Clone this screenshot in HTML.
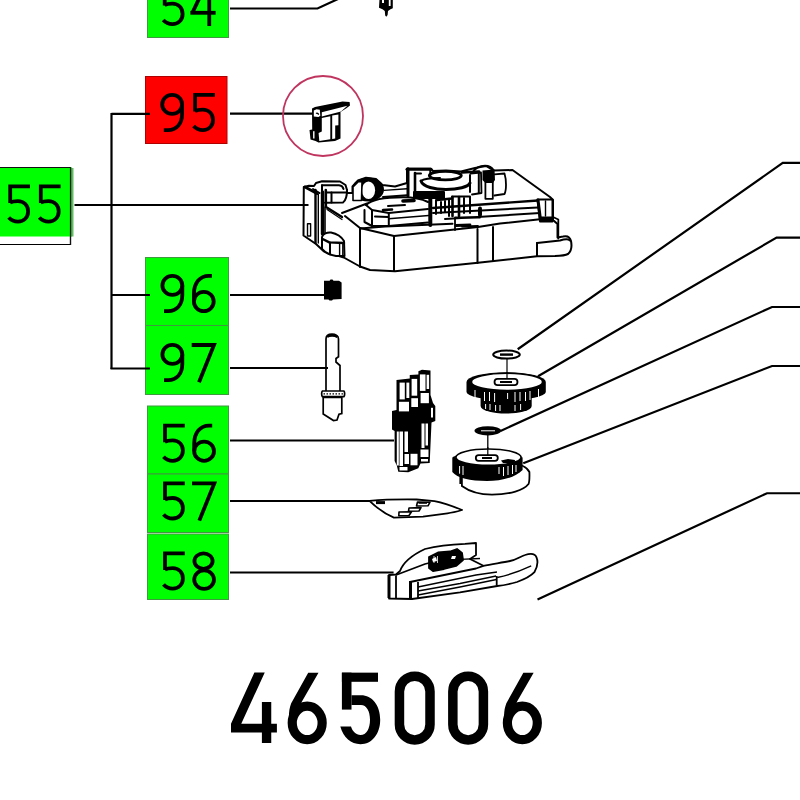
<!DOCTYPE html>
<html><head><meta charset="utf-8">
<style>
html,body{margin:0;padding:0;background:#fff;}
body{width:800px;height:800px;overflow:hidden;position:relative;font-family:"Liberation Sans",sans-serif;}
svg{position:absolute;left:0;top:0;}
.lb{font-family:"Liberation Sans",sans-serif;font-size:55px;fill:#000;letter-spacing:2px;}
</style></head>
<body>
<svg width="800" height="800" viewBox="0 0 800 800">
<defs>
<g id="d5" fill="none" stroke="#000" stroke-width="3.8"><path d="M26.3,1.9 H6.5 V18.6"/><path d="M6.3,18.2 C8.5,16.9 11.2,16.6 14.2,16.6 C20.3,16.6 24.4,21 24.4,26.9 C24.4,32.9 20.2,37.1 14.3,37.1 C10.5,37.1 7.3,35.6 5,33"/></g>
<g id="d9" fill="none" stroke="#000" stroke-width="3.8"><ellipse cx="14.15" cy="11.4" rx="9.95" ry="9.5"/><path d="M24.1,11.4 V21 C24.1,31 18.5,37.1 10,37.1 H5.8"/></g>
<g id="d6" fill="none" stroke="#000" stroke-width="3.8"><ellipse cx="15" cy="27.5" rx="9.9" ry="9.6"/><path d="M5.1,27.5 V20 C5.1,9 11,1.9 20,1.9 H23.1"/></g>
<g id="d7" fill="none" stroke="#000" stroke-width="3.8"><path d="M2.9,2 H25.2 L10.2,39.2"/></g>
<g id="d8" fill="none" stroke="#000" stroke-width="3.8"><ellipse cx="14.4" cy="9.6" rx="9.1" ry="7.7"/><ellipse cx="15" cy="28.1" rx="9.9" ry="9.3"/></g>
<g id="d4" fill="none" stroke="#000" stroke-width="3.8"><path d="M20.45,0 V39"/><path d="M1.6,25.8 H26.8"/><path d="M16,-0.5 L3.6,25.8"/></g>
</defs>
<!-- label boxes -->
<g id="boxes">
<rect x="147.5" y="-1" width="81" height="38.5" fill="#00ff00" stroke="#3f9a3f" stroke-width="1"/>
<rect x="145.5" y="76.5" width="81.5" height="67" fill="#ff0000" stroke="#b00000" stroke-width="1"/>
<path d="M-1 167.5 H70.5 V244.5 H-1" fill="none" stroke="#000" stroke-width="1.2"/>
<rect x="-1" y="167.5" width="73" height="69" fill="#00ff00"/>
<rect x="70" y="168" width="3.5" height="68.5" fill="#3daa3d" opacity="0.8"/>
<line x1="-1" y1="167.5" x2="70.5" y2="167.5" stroke="#111" stroke-width="1.2"/>
<line x1="70.5" y1="167.5" x2="70.5" y2="245" stroke="#111" stroke-width="1.2"/>
<rect x="145.5" y="257.5" width="83" height="68" fill="#00ff00" stroke="#3f9a3f" stroke-width="1"/>
<rect x="145.5" y="325.5" width="83" height="69" fill="#00ff00" stroke="#3f9a3f" stroke-width="1"/>
<rect x="147.5" y="406" width="81" height="68" fill="#00ff00" stroke="#3f9a3f" stroke-width="1"/>
<rect x="147.5" y="474" width="81" height="58.5" fill="#00ff00" stroke="#3f9a3f" stroke-width="1"/>
<rect x="147.5" y="534" width="81" height="65.5" fill="#00ff00" stroke="#3f9a3f" stroke-width="1"/>
</g>
<!-- label texts -->
<g id="labels">
<use href="#d5" x="158.2" y="-13"/><use href="#d4" x="188.8" y="-13"/>
<use href="#d9" x="158" y="93"/><use href="#d5" x="188.6" y="93"/>
<use href="#d5" x="3.7" y="184.5"/><use href="#d5" x="34.3" y="184.5"/>
<use href="#d9" x="158.2" y="274"/><use href="#d6" x="188.8" y="274"/>
<use href="#d9" x="158.2" y="343"/><use href="#d7" x="188.8" y="343"/>
<use href="#d5" x="158.5" y="423.7"/><use href="#d6" x="189.1" y="423.7"/>
<use href="#d5" x="158.5" y="481.4"/><use href="#d7" x="189.1" y="481.4"/>
<use href="#d5" x="158.5" y="551.5"/><use href="#d8" x="189.1" y="551.5"/>
</g>
<!-- housing 55 -->
<g id="housing" fill="none" stroke="#000" stroke-width="2" stroke-linejoin="round" stroke-linecap="round">
<path fill="#fff" d="M303.8,187 L309,185.8 L314,186 L316,183 L322,181.3 L340,181.5 L345.5,185 L347,190 L347,193 L352.5,193 L352.5,186.5 L358,180.5 L366,177.8 L376,179 L382.5,185 L395,186.5 L407,183 L407,168.8 L431,168.8 L433,171 L446,170.5 L461,171.5 L475,168 L486,166 L494,170.6 L512.5,170 L550,197 L553,200 L553,220 L557.5,224 L557.5,237.5 L563,236.5 C567,235.5 570,237 571,241 C572,246 571.5,251 568,254 C565,255.5 560,255.8 555,256 L537,256.3 L478,262.8 L395,271.3 L370,270 L360,266.5 L343.8,257.5 L323.8,251.3 L316,244 L303.5,235.5 Z"/>
<!-- left tab -->
<path d="M315.5,190 V243" stroke-width="2.4"/><path d="M318.3,194 V243" stroke-width="1.4"/>
<path d="M322.5,192 V234" stroke-width="3.4"/>
<rect x="307.5" y="223.8" width="3.1" height="12.2" stroke-width="1.4"/>
<path d="M305,187 L317,193.5" stroke-width="3"/><path d="M313,189 L319.5,193"/>
<!-- boss -->
<path d="M322,185.3 H339 C341.5,185.5 343,187 343.5,189"/><path d="M322,185.3 V193"/>
<path d="M326,192.5 H346"/><path d="M331.5,192.5 V202.5"/><path d="M325.8,190 V206" stroke-width="2.6"/>
<path d="M325,202.8 L343,202.5 C346.5,200 347,193 347,190"/>
<!-- knob -->
<ellipse cx="368" cy="189.5" rx="16" ry="12" fill="#000" stroke="none"/>
<ellipse cx="368.5" cy="190.3" rx="6.6" ry="8.8" fill="#fff" stroke="none"/>
<path d="M353,200.5 V187 L358.5,181.5 L362,182 L361.5,200.5 Z" fill="#fff" stroke-width="1.6"/>
<path d="M383,197 L407,195.2"/>
<path d="M384,190.4 L407,188.7" stroke-width="1.4"/>
<!-- left face -->
<path d="M326,207 L342,217" stroke-width="2.4"/><path d="M327,209.5 L342,219.5" stroke-width="1.2"/>
<path d="M342,213 L367,203.5"/>
<path d="M345,216 L360,228 L394,236 L478,227 L500,223.5 L540,219.3"/>
<path d="M360,228 V267"/><path d="M394,236 V271"/><path d="M477.5,229 V263"/><path d="M493,227 V261"/>
<path d="M325,207 V235" stroke-width="1.6"/>
<!-- left foot -->
<path fill="#fff" d="M322,249 L322,237 C323,234 327,232 331,232.5 C336,233.5 341,236 344,241 L344.5,256 L336,256 C330,255 325,252.5 322,249 Z"/>
<path d="M322.6,239 L329.3,242.4 L344,243" stroke-width="2.4"/><path d="M330,242.4 V254.5"/><path d="M339.6,242.6 V255.5" stroke-width="1.4"/><path d="M342.8,242.8 V255.5" stroke-width="1.4"/>
<!-- top disk -->
<path d="M366,205 C372,199 385,197.3 403,197.3 C415,197.3 422,199 428,202"/>
<path d="M366,205 L372,210 L388.8,213 L428,209"/>
<path d="M364.5,210 V222 L372,226 L388.8,226 L428,222.5"/>
<path d="M372,210 V226"/><path d="M388.8,213 V226"/>
<path d="M375,216.5 L388,217"/>
<path d="M403,201 L414,200.5" stroke-width="3.6"/>
<path d="M388,206 L405,205" stroke-width="2"/>
<path d="M383,210 L392,209.5" stroke-width="2.6"/>
<path d="M388.8,218.8 L428.7,215.5" stroke-width="1.6"/>
<path d="M360,228.5 L385,226.5 L452.5,223.8"/>
<!-- center tower -->
<path d="M408,168.8 V196" stroke-width="3"/><path d="M415,173 V194" stroke-width="2.6"/><path d="M407,169.3 L431,169.3" stroke-width="3"/>
<path d="M415,173.5 H421"/>
<path d="M430.3,169.3 V178"/>
<path d="M414,192 L444,192 L444,198 L414,198 Z" fill="#000"/>
<path d="M430.3,193 V225" stroke-width="4"/>
<ellipse cx="445.3" cy="175.6" rx="16" ry="4.2" stroke-width="2.8"/>
<path d="M421,181 C423,187 435,189.5 446,189.5 C458,189.5 468,187 470,183" stroke-width="3"/>
<path d="M421,181 C424,178.5 432,178 440,178"/>
<path d="M462,172.5 L479,171.5" stroke-width="2.6"/><path d="M470,175 V192 M478.8,172 V193"/>
<path d="M437,200 L452,198.5" stroke-width="2.4"/><path d="M436,200 V214 M441,202 V213 M445,201 V212 M449,200 V216"/>
<path d="M452.5,197 V216 M459,197 V216" stroke-width="2.6"/>
<path d="M452,196.5 H470 V213"/><path d="M464,198 V213"/>
<path d="M455,217.5 H480 M455,217.5 V230 M462,226.5 L478,226" stroke-width="1.8"/>
<path d="M456,225.5 L470,225" stroke-width="2.8"/>
<!-- wing nut -->
<path d="M473,172 C476,167 481,165.8 485,165.8 C489,165.8 492,167.5 493.5,170" stroke-width="2"/>
<path d="M470.5,173.5 L481,172.5 L481.5,193 L472,194.5" stroke-width="1.8"/>
<path d="M485.4,178 V198.8 H492.8 V178" stroke-width="1.8"/>
<path fill="#000" stroke="none" d="M482.5,170.5 L494.5,169.5 L495,180 L492.8,183 L485.4,183 L482.5,180 Z"/>
<path d="M494.4,174.4 L504.5,173.5 C506.5,180 506.5,190 504.5,194 L494.4,195.5" stroke-width="1.8"/>
<!-- right bars -->
<path d="M433,208 L538,200.5" stroke-width="2.4"/><path d="M433,213 L538,207.5"/><path d="M445,219 L540,213"/>
<path d="M480,208.5 V215" stroke-width="4"/>
<path d="M537.5,199.5 H552.5 V221.5 H540 Z" stroke-width="2"/>
<path d="M538,200 L540.5,220" stroke-width="3"/>
<path fill="#000" stroke="none" d="M540,216.5 H553 V222 H540 Z"/>
<path d="M545.5,201 V216" stroke-width="1.4"/>
<path d="M553,217 L558.3,219.5 V238.5" stroke-width="1.8"/>
<!-- right foot -->
<path d="M537,243 L560,240.5 C565,239 568,238.5 570,240.5" stroke-width="2"/><path d="M537,243 V256"/>
</g>
<!-- part 54 top -->
<path d="M379.5,-1 L379,7.8 L382.5,9.2 L384.8,11 L385.2,15.5 L386.3,16.8 L387.6,15 L388,11 L390.5,9.2 L392.8,8.3 L392.8,-1 Z" fill="#000"/>
<rect x="382" y="-1" width="2" height="4" fill="#fff"/><rect x="388.8" y="-1" width="1.8" height="7" fill="#fff"/>
<!-- part 95 -->
<g id="p95">
<path fill="#000" d="M312,108.5 L315,107 L342.5,101.4 L349.6,102 L350,105.5 L346,108.5 L340.5,112 L340.5,138.5 L335,141 L318.5,142.5 L315.5,141 L310.5,139.5 L309.5,130 L312.2,129.5 Z"/>
<path fill="#fff" d="M321.8,112.2 L347.4,105.8 L341,111.6 L321.8,116.4 Z"/>
<path fill="#fff" d="M321.8,118 L330.3,116.3 L330.3,139.3 L319.3,141 L318.6,133 L321.8,131.5 Z"/>
<path fill="#fff" d="M332.2,115.6 L338.4,114.4 L338.4,125.3 L335.2,125.6 L335.2,138.6 L332.2,139 Z"/>
<path fill="#fff" d="M313.8,110.5 L316.5,109.3 L319.8,109.8 L320.3,115.8 L318.5,117 L313.8,116.5 Z"/><path d="M316,113.5 A1.6,1.6 0 0 1 318.5,114.8" fill="none" stroke="#000" stroke-width="1.3"/>
<rect x="313.1" y="131.2" width="1.4" height="7.3" fill="#fff"/>
</g>
<!-- part 96 -->
<path fill="#000" d="M324,280.8 L329.6,280.8 L330.5,279.6 L332.5,279.6 L333.5,280.8 L339,280.8 L341.6,282.5 L341.6,299 L333,299.6 L332,300.6 L329.5,300.6 L328.5,299.6 L324,299.6 Z"/>
<!-- part 97 pin -->
<g id="p97" fill="none" stroke="#000" stroke-width="1.7">
<path fill="#fff" d="M326,391.5 V339 C326,336 328.5,334.2 332,334.2 C335.5,334.2 338.5,336 338.5,339 V356.7 L336,358.5 L336,362 L340,365.5 V391"/>
<path d="M327,337 C329,334.8 335,334.8 337.5,337" stroke-width="2.6"/>
<path fill="#fff" d="M322.4,391 H343.9 C344.9,392 344.9,395.6 343.9,396.6 H322.4 C321.4,395.6 321.4,392 322.4,391 Z"/>
<path d="M323.5,393.8 H343" stroke-dasharray="1.5 1.5" stroke-width="1.2"/>
<path fill="#fff" d="M323.2,397.5 H341.8 V413.5 L339,414.3 L337,420 L333.5,420.5 L323.2,414 Z"/>
</g>
<!-- part 56 -->
<g id="p56">
<path fill="#000" d="M396.5,380 L409.75,378.5 L409.75,375 L418.4,374.5 L418.4,371.3 L422,369.8 L430.5,370.6 L430.5,395 L433,403 L435.3,406 L435.3,421 L431.5,422.5 L429.7,463 L420.5,463.5 L418.3,468.3 L408.3,472.3 L398.3,471.8 L396.8,465.5 L394.6,461 L394.6,431 L392,429.5 L392,411 L396.5,410 Z"/>
<g fill="#fff">
<rect x="399.6" y="382.6" width="5.2" height="16.8"/><rect x="406.4" y="382.6" width="2.9" height="15.4"/><rect x="398.9" y="401.8" width="10.1" height="9.6"/>
<rect x="411.6" y="378.9" width="5.6" height="16.8"/><rect x="411.3" y="398.2" width="6.7" height="8.8"/>
<rect x="419.9" y="374.4" width="5.6" height="16.5"/><rect x="426.6" y="374.8" width="2.5" height="14.2"/><rect x="420.6" y="393" width="8.3" height="10.2"/>
<rect x="431" y="407.8" width="2" height="9.7"/>
<rect x="396.8" y="431.5" width="2" height="34"/><rect x="399.5" y="431.5" width="3.5" height="34.5"/><rect x="399.5" y="467" width="8" height="3.5"/>
<rect x="404.5" y="431.5" width="3.5" height="20.5"/>
<rect x="421.5" y="423.5" width="3" height="24.5"/><rect x="425.5" y="423.5" width="2.5" height="22"/><rect x="420.5" y="449.5" width="8" height="7.5"/><rect x="421" y="459" width="7" height="2.5"/>
<rect x="410.5" y="453.8" width="7" height="11.5"/><rect x="404.5" y="454" width="4.5" height="10"/>
</g></g>
<!-- part 57 -->
<g id="p57" fill="none" stroke="#000" stroke-width="1.8" stroke-linejoin="round">
<path fill="#fff" d="M369.5,500.8 C385,499.5 400,499.3 416.6,499.5 L434.5,501.1 C442,502.5 450,505 462.1,510 C456,511.8 450,513 447.5,513.3 L423,516.6 L393.9,517.7 C385,514 377,508 369.5,500.8 Z"/>
<path d="M376,502.6 H385" stroke-width="3"/>
<path d="M417.5,502 L430,502.2 L428,505.8 L416.5,506 Z" stroke-width="1.6"/>
<path d="M418.5,503 H427" stroke-width="1.6"/>
<path d="M409,508 L421,507.6 L419,511 L408.5,511.2 Z" stroke-width="1.6"/>
<path d="M399,512 L411.5,511.7 L409,515.5 L398.8,515.7 Z" stroke-width="1.6"/>
</g>
<!-- part 58 -->
<g id="p58" fill="none" stroke="#000" stroke-width="1.8" stroke-linejoin="round">
<path fill="#fff" d="M389,575 L396,574.5 L400,571 C403,563 410,556 425,549 C437,546 450,544.5 465,543.8 L476,543 L476,555 L470,559 L483.4,565.8 C492,564 502.5,562.6 510,561 C517,559.5 520,556.5 525,555 C530,553.3 535,553.5 536.5,557.3 C538,561 538,566 534.4,572.2 C530,577 523.8,579.6 517,582 C510,584 503,585.5 497.2,586 L460,592.4 L412,599 L389,598.5 Z"/>
<path d="M396,575 L425,564 L445,559"/>
<path d="M389,575 V598" stroke-width="3"/><path d="M396,575.5 V598"/>
<path fill="#000" d="M429,557 L438,552.5 L450,551.5 L457,549 L462,553 L463,560 L456,566 L444,569 L433,571 L429,568 Z"/>
<path fill="#fff" stroke="none" d="M432,559 L436,557 L437,561 L433,562 Z M452,556 L456,556 L455,559 L451,559 Z"/>
<path d="M410,582 L476,568.5 L483.4,565.8"/>
<path d="M410.5,581 V599" stroke-width="3"/><path d="M418,582 V598"/>
<path d="M418,587 L476,575 L497,572" stroke-width="1.4"/>
<path d="M418,591 L460,583.5 L496.1,576" stroke-width="1.4"/>
<path d="M418,595 L460,587 L496.5,579.5" stroke-width="1.4"/>
<path d="M497.2,577.5 C510,575 520,571 531.2,565.8" stroke-width="1.4"/>
<path d="M496.7,576 V585.5"/>
<path d="M460,559.4 L480,558.5" stroke-width="1.4"/>
<path d="M434,556 L434,563 M437.5,556 V563" stroke="#fff" stroke-width="0.8"/>
</g>
<!-- washer 1 -->
<g fill="none" stroke="#000">
<ellipse cx="506.5" cy="354.6" rx="13.3" ry="4" fill="#fff" stroke-width="2"/>
<path d="M500,354.6 H513" stroke-width="2.4"/>
<path d="M507,359 V378" stroke-width="1.2"/>
</g>
<!-- gear 1 -->
<g id="gear1">
<path fill="#000" d="M480.6,398 V406 A25.5,7.5 0 0 0 531.7,406 V398 Z"/>
<path fill="#000" d="M466.5,382 A39.6,9.8 0 0 1 545.8,382 V392 A39.6,8 0 0 1 466.5,392 Z"/>
<ellipse cx="507" cy="381.9" rx="35.6" ry="8.6" fill="#fff" stroke="#000" stroke-width="1.6"/>
<rect x="494.5" y="378.8" width="23" height="6.3" rx="3.1" fill="#fff" stroke="#000" stroke-width="1.8"/>
<path d="M500,382 H512" stroke="#000" stroke-width="2"/>
<path d="M507,372 V379" stroke="#000" stroke-width="1.2"/>
<g stroke="#fff" stroke-width="1">
<path d="M475,390 V399 M484.5,392 V401 M489.5,392 V401 M494.6,393 V402 M507.6,393 V399 M515,392 V402 M520,392 V401 M525.5,392 V401 M530,391 V400 M538.5,389 V397"/>
<path d="M485.6,404 V409 M490,404 V410 M495.6,405 V411 M500,405 V411 M515,405 V411 M520.6,404 V410"/>
</g></g>
<!-- washer 2 -->
<g>
<ellipse cx="487.8" cy="430.8" rx="13.3" ry="4.6" fill="#000"/>
<path d="M481,430.8 H495" stroke="#fff" stroke-width="1"/>
<path d="M487.8,435 V450" stroke="#000" stroke-width="1.3"/>
</g>
<!-- gear 2 -->
<g id="gear2">
<path fill="#fff" stroke="#000" stroke-width="1.8" d="M461.9,470 V486 C470,492 480,494.6 492,494.6 C510,494.6 524,490 528.5,484 C529.5,482 529.6,478 529.4,472 C527,467 520,464 512,464 Z"/>
<path fill="#000" d="M452.3,457.4 A37.2,9.2 0 0 1 522.6,457.4 V470 C515,478 500,481 487,481 C470,481 457,478 452.3,472 Z"/>
<ellipse cx="488.5" cy="457.2" rx="32.6" ry="8.2" fill="#fff" stroke="#000" stroke-width="1.6"/>
<path fill="#000" d="M501,460.5 L508,459 L515,460 L514.7,463 L503,463 Z"/>
<rect x="475.8" y="455.2" width="22" height="5.6" rx="2.8" fill="#fff" stroke="#000" stroke-width="1.8"/>
<path d="M482,458 H492" stroke="#000" stroke-width="2"/>
<path d="M487.8,447 V456" stroke="#000" stroke-width="1.2"/>
<g stroke="#fff" stroke-width="1"><path d="M459.6,466 V474 M463,466 V475 M499,467 V474 M503.5,467 V476 M508,466 V475 M512.5,465 V474 M516,465 V472"/></g>
<path d="M460.2,473.5 V484" stroke="#000" stroke-width="1.6"/>
</g>
<!-- leader lines -->
<g id="lines" fill="none" stroke="#000" stroke-width="2.2">
<polyline points="230,8.5 317.5,8.5 338,-1"/>
<polyline points="111.5,113.8 150,113.8"/>
<polyline points="111.5,113 111.5,369"/>
<polyline points="74.5,205 308.5,205"/>
<polyline points="111.5,295 150,295"/>
<polyline points="110.5,368.5 150,368.5"/>
<polyline points="230,113.7 312.5,113.7"/>
<polyline points="230,295 325,295"/>
<polyline points="230,368 328,368"/>
<polyline points="230,440.5 394,440.5"/>
<polyline points="230,501 370,501"/>
<polyline points="230,572.5 393.6,572.5"/>
<polyline points="801,162.9 782.75,162.9 517.7,349.25"/>
<polyline points="801,237.6 776.6,237.6 538,376.25"/>
<polyline points="801,307 772,307 500.5,431"/>
<polyline points="801,366 772,366 523.25,463.25"/>
<polyline points="801,493.25 767,493.25 537.5,599.4"/>
</g>
<!-- circle -->
<circle cx="323" cy="116" r="40" fill="none" stroke="#c03560" stroke-width="1.8"/>
<!-- big number -->
<g id="big" fill="#000">
<path d="M254.4,672.5 H264.75 L241.25,723.75 H261.9 V701.9 H271.25 V723.75 H276.9 V732.5 H271.25 V743.1 H261.9 V732.5 H231 V723.75 Z"/>
<g id="b6"><ellipse cx="307.2" cy="722.9" rx="14.95" ry="16.7" fill="none" stroke="#000" stroke-width="9.2"/>
<path d="M308.2,672.65 L318.5,672.65 L301.8,701.7 L298,712 L289,717 C288.8,712 289.6,707.5 291.2,703.3 Z"/></g>
<g id="b5"><path d="M351.5,695.3 H361 C372,695.3 380.2,705 380.2,719.75 C380.2,734 372,744.2 360.5,744.2 C351,744.2 343.5,738 340.3,726.6 H351 C352.5,731.5 356,735.1 360.5,735.1 C366.5,735.1 370,728.5 370,719.75 C370,711 366.5,704.9 361,704.9 H351.5 Z"/>
<rect x="341.9" y="672.65" width="36.1" height="9.15"/>
<rect x="341.9" y="672.65" width="9.6" height="36.95"/></g>
<rect x="399.45" y="676.2" width="30.55" height="63.7" rx="15.3" fill="none" stroke="#000" stroke-width="9.5"/>
<rect x="452.85" y="676.2" width="30.55" height="63.7" rx="15.3" fill="none" stroke="#000" stroke-width="9.5"/>
<use href="#b6" x="215.15" y="0"/>
</g>
</svg>
</body></html>
